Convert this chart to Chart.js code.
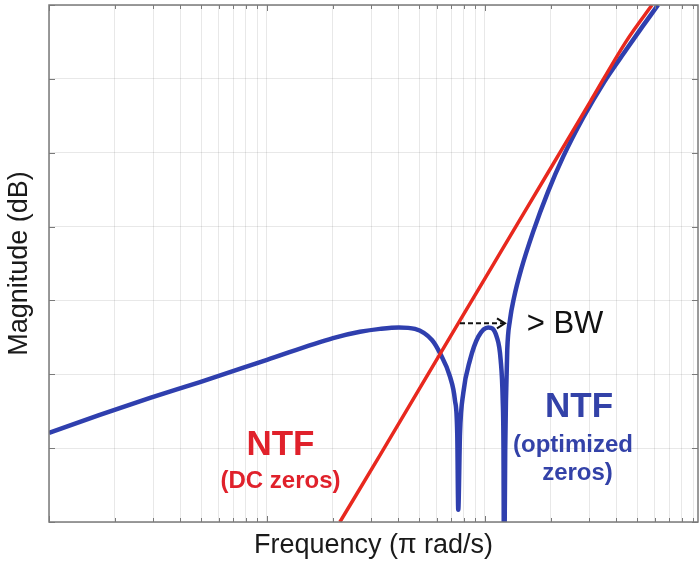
<!DOCTYPE html>
<html>
<head>
<meta charset="utf-8">
<script src="https://cdn.jsdelivr.net/npm/chart.js@4/dist/chart.umd.min.js"></script>
<style>
    body { margin: 0; background: #ffffff; }
    #ntf_graph { display: block; }
</style>
</head>
<body>
<canvas id="ntf_graph" width="699" height="569"></canvas>
<script>
// Frequency axis (normalised, x pi rad/s) and magnitude axis (dB)
const decadeStarts = [0.001, 0.01, 0.1];
const xTicks = decadeStarts.flatMap(d => [1, 2, 3, 4, 5, 6, 7, 8, 9].map(m => d * m));
const yTicks = [-120, -100, -80, -60, -40, -20, 0, 20];

// NTF with all zeros at DC
const dcFreq = [0.0216, 0.033, 0.0503, 0.0768, 0.1172, 0.2029, 0.3031, 0.4481, 0.5834];
const dcMag  = [-120, -101.9, -83.7, -65.4, -47.2, -23.6, -6.3, 10.5, 20];

// NTF with optimised zeros spread across the band
const optFreq = [0.001, 0.00171, 0.00291, 0.00493, 0.01, 0.0201, 0.0267, 0.033, 0.0403, 0.0477,
                 0.0571, 0.0622, 0.0691, 0.0728, 0.0746, 0.0754, 0.0768, 0.0795, 0.0854, 0.0932,
                 0.1035, 0.1131, 0.118, 0.1206, 0.1216, 0.1223, 0.1238, 0.1248, 0.1265, 0.1302,
                 0.1358, 0.1462, 0.1661, 0.1945, 0.2279, 0.2815, 0.3515, 0.4434, 0.5252, 0.6217];
const optMag  = [-95.9, -91.0, -86.4, -82.1, -76.1, -70.2, -68.5, -67.7, -67.3, -67.7,
                 -70.7, -74.3, -80.65, -87.0, -96.0, -116.7, -96.0, -85.1, -76.1, -69.8,
                 -67.3, -69.8, -76.1, -87.0, -100.5, -140, -100.5, -87.0, -73.4, -65.3,
                 -59.3, -51.8, -41.5, -30.6, -21.2, -10.6, -0.9, 7.8, 14.0, 20];

// Text placed on the plot, anchored in data units (frequency, dB at the baseline)
const labels = [
    { text: "NTF",         f: 0.01153, db: -101.85, font: "bold 35px 'Liberation Sans', Arial, sans-serif", color: "#e0212b", align: "center" },
    { text: "(DC zeros)",  f: 0.01153, db: -110.9,  font: "bold 24px 'Liberation Sans', Arial, sans-serif", color: "#e0212b", align: "center" },
    { text: "NTF",         f: 0.2699,  db: -91.5,   font: "bold 35px 'Liberation Sans', Arial, sans-serif", color: "#3342a8", align: "center" },
    { text: "(optimized",  f: 0.2534,  db: -101.0,  font: "bold 24px 'Liberation Sans', Arial, sans-serif", color: "#3342a8", align: "center" },
    { text: "zeros)",      f: 0.2656,  db: -108.5,  font: "bold 24px 'Liberation Sans', Arial, sans-serif", color: "#3342a8", align: "center" },
    { text: "> BW",        f: 0.1553,  db: -68.9,   font: "31px 'Liberation Sans', Arial, sans-serif",      color: "#111111", align: "left" }
];

// Bandwidth arrow between the two curves
const bwArrow = { from: 0.0768, to: 0.1235, db: -66.2 };

function toPoints(xs, ys)
{
    return xs.map((x, i) => ({ x: x, y: ys[i] }));
}

// Draws the box frame, inward tick marks, the annotations and the arrow
const overlayPlugin = {
    id: "overlay",
    afterDatasetsDraw(chart)
    {
        const ctx = chart.ctx;
        const xs = chart.scales.x;
        const ys = chart.scales.y;
        const area = chart.chartArea;

        ctx.save();

        // Frame
        ctx.strokeStyle = "#7a7a7a";
        ctx.lineWidth = 1.5;
        ctx.strokeRect(area.left, area.top, area.right - area.left, area.bottom - area.top);

        // Inward ticks
        ctx.lineWidth = 1;
        ctx.beginPath();
        xTicks.forEach(v =>
        {
            const px = Math.round(xs.getPixelForValue(v)) + 0.5;
            const len = decadeStarts.some(d => Math.abs(d - v) < 1e-9) ? 6 : 4;
            ctx.moveTo(px, area.bottom);
            ctx.lineTo(px, area.bottom - len);
            ctx.moveTo(px, area.top);
            ctx.lineTo(px, area.top + len);
        });
        yTicks.forEach(v =>
        {
            const py = Math.round(ys.getPixelForValue(v)) + 0.5;
            ctx.moveTo(area.left, py);
            ctx.lineTo(area.left + 6, py);
            ctx.moveTo(area.right, py);
            ctx.lineTo(area.right - 6, py);
        });
        ctx.stroke();

        // Dashed bandwidth arrow
        const ax0 = xs.getPixelForValue(bwArrow.from);
        const ax1 = xs.getPixelForValue(bwArrow.to);
        const ay = ys.getPixelForValue(bwArrow.db);
        ctx.strokeStyle = "#111111";
        ctx.lineWidth = 2;
        ctx.setLineDash([5, 3]);
        ctx.beginPath();
        ctx.moveTo(ax0, ay);
        ctx.lineTo(ax1 - 2, ay);
        ctx.stroke();
        ctx.setLineDash([]);
        ctx.beginPath();
        ctx.moveTo(ax1 - 8, ay - 5);
        ctx.lineTo(ax1, ay);
        ctx.lineTo(ax1 - 8, ay + 5);
        ctx.stroke();

        // Curve annotations
        ctx.textBaseline = "alphabetic";
        labels.forEach(l =>
        {
            ctx.font = l.font;
            ctx.fillStyle = l.color;
            ctx.textAlign = l.align;
            ctx.fillText(l.text, xs.getPixelForValue(l.f), ys.getPixelForValue(l.db));
        });

        ctx.restore();
    }
};

const gridColor = "rgba(0, 0, 0, 0.09)";

new Chart(document.getElementById("ntf_graph").getContext("2d"),
{
    type: "line",
    data: {
        datasets: [
            {
                label: "NTF (DC zeros)",
                data: toPoints(dcFreq, dcMag),
                borderColor: "#e8281e",
                borderWidth: 3.5,
                pointRadius: 0,
                cubicInterpolationMode: "monotone",
                clip: 0
            },
            {
                label: "NTF (optimized zeros)",
                data: toPoints(optFreq, optMag),
                borderColor: "#2f3fae",
                borderWidth: 4.5,
                pointRadius: 0,
                cubicInterpolationMode: "monotone",
                clip: 0
            }
        ]
    },
    options: {
        responsive: false,
        animation: false,
        devicePixelRatio: 1,
        layout: { padding: { top: 5, right: 1, left: 0, bottom: 0 } },
        plugins: {
            legend: { display: false },
            tooltip: { enabled: false }
        },
        scales: {
            x: {
                type: "logarithmic",
                min: 0.001,
                max: 0.9487,
                border: { display: false },
                grid: { color: gridColor, drawTicks: false },
                ticks: { display: false },
                afterBuildTicks: scale => { scale.ticks = xTicks.map(v => ({ value: v })); },
                afterFit: scale => { scale.height = 47; },
                title: {
                    display: true,
                    text: "Frequency (\u03c0 rad/s)",
                    color: "#1a1a1a",
                    font: { family: "'Liberation Sans', Arial, sans-serif", size: 27 },
                    padding: { top: 0, bottom: 7 }
                }
            },
            y: {
                min: -120,
                max: 20,
                border: { display: false },
                grid: { color: gridColor, drawTicks: false },
                ticks: { display: false, stepSize: 20 },
                afterFit: scale => { scale.width = 49; },
                title: {
                    display: true,
                    text: "Magnitude (dB)",
                    color: "#1a1a1a",
                    font: { family: "'Liberation Sans', Arial, sans-serif", size: 27 },
                    padding: { top: 3, bottom: 0 }
                }
            }
        }
    },
    plugins: [overlayPlugin]
});
</script>
</body>
</html>
